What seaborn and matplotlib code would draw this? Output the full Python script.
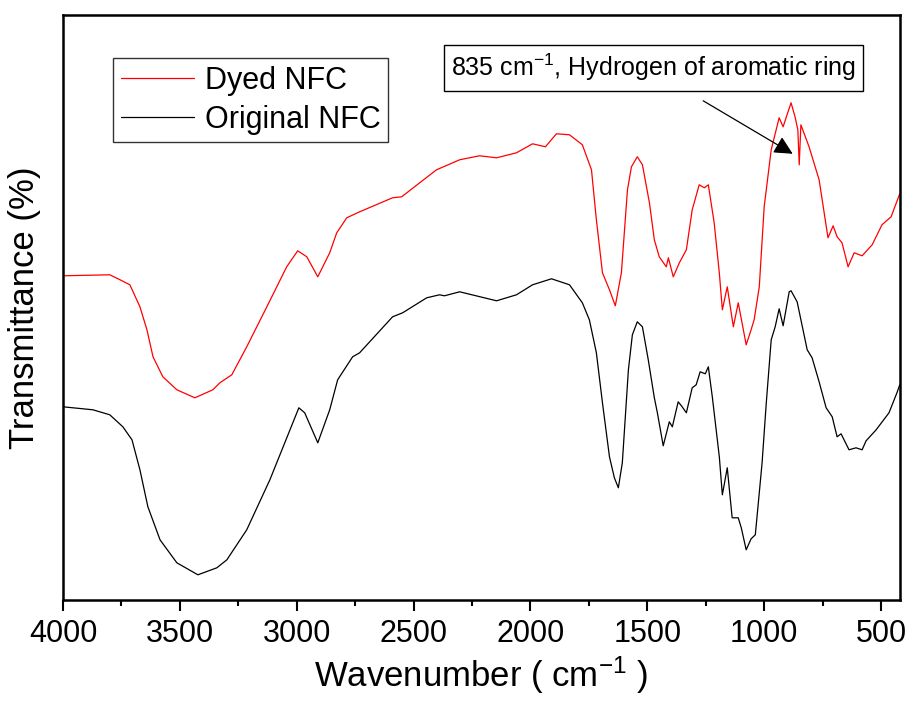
import matplotlib
matplotlib.use('Agg')
import matplotlib.pyplot as plt
import seaborn as sns
import pandas as pd
from matplotlib.ticker import MultipleLocator

sns.set_theme(style="white")
plt.rcParams['font.family'] = ['Liberation Sans', 'DejaVu Sans']
plt.rcParams['mathtext.default'] = 'regular'
plt.rcParams['text.color'] = 'black'
plt.rcParams['axes.labelcolor'] = 'black'
plt.rcParams['xtick.color'] = 'black'

# --- data (wavenumber in cm-1, transmittance in arbitrary %) ---
dyed_wn = [4000, 3800, 3756, 3714, 3671, 3641, 3615, 3573, 3513, 3436, 3359, 3329, 3278, 3214,
           3128, 3043, 2996, 2957, 2910, 2859, 2829, 2786, 2731, 2590, 2551, 2474, 2402, 2303,
           2218, 2145, 2060, 1991, 1936, 1889, 1833, 1778, 1739, 1718, 1692, 1662, 1637, 1611,
           1585, 1568, 1543, 1521, 1491, 1470, 1449, 1419, 1410, 1389, 1363, 1333, 1308, 1278,
           1256, 1239, 1214, 1192, 1179, 1158, 1132, 1111, 1077, 1056, 1043, 1021, 1000, 970,
           936, 919, 898, 885, 868, 856, 850, 843, 808, 765, 727, 705, 688, 667, 641, 615, 581,
           538, 496, 457, 420]
dyed_t = [32.4, 32.5, 32.0, 31.5, 29.3, 27.0, 24.3, 22.3, 21.0, 20.2, 21.0, 21.7, 22.5, 25.3,
          29.3, 33.3, 34.9, 34.3, 32.3, 34.7, 36.7, 38.2, 38.8, 40.2, 40.3, 41.7, 43.0, 44.0,
          44.4, 44.2, 44.7, 45.6, 45.3, 46.6, 46.5, 45.5, 43.0, 38.0, 32.7, 31.0, 29.4, 32.7,
          41.0, 43.3, 44.3, 43.5, 39.7, 36.0, 34.3, 33.3, 34.2, 32.3, 33.7, 35.0, 39.0, 41.5,
          41.2, 41.5, 37.7, 32.7, 29.0, 31.3, 27.3, 29.7, 25.5, 27.0, 28.0, 31.3, 39.3, 45.0,
          48.2, 47.3, 48.8, 49.7, 48.3, 47.0, 43.5, 47.5, 45.3, 42.0, 36.2, 37.4, 36.3, 35.7,
          33.3, 34.7, 34.4, 35.5, 37.5, 38.3, 40.6]

orig_wn = [4000, 3872, 3800, 3744, 3705, 3671, 3637, 3585, 3513, 3423, 3342, 3299, 3214, 3115,
           2991, 2966, 2910, 2859, 2825, 2761, 2731, 2590, 2547, 2444, 2389, 2368, 2303, 2145,
           2060, 1991, 1910, 1833, 1778, 1748, 1718, 1692, 1662, 1641, 1624, 1607, 1581, 1564,
           1543, 1521, 1496, 1470, 1457, 1432, 1406, 1393, 1368, 1351, 1333, 1308, 1291, 1274,
           1252, 1239, 1222, 1192, 1179, 1158, 1137, 1111, 1098, 1077, 1056, 1038, 1021, 1009,
           991, 970, 953, 936, 919, 893, 885, 859, 816, 795, 765, 735, 709, 688, 671, 637, 607,
           581, 564, 521, 466, 432, 420]
orig_t = [19.3, 19.0, 18.5, 17.3, 16.0, 13.0, 9.3, 6.0, 3.7, 2.5, 3.2, 4.0, 7.0, 12.0,
          19.2, 18.7, 15.7, 19.0, 22.0, 24.3, 24.7, 28.3, 28.7, 30.2, 30.5, 30.4, 30.8, 29.9,
          30.5, 31.5, 32.1, 31.5, 29.7, 28.0, 24.7, 19.7, 14.3, 12.2, 11.2, 13.7, 23.0, 26.5,
          27.8, 27.3, 24.0, 20.2, 18.7, 15.4, 17.8, 17.3, 19.8, 19.3, 18.7, 21.2, 21.5, 22.8,
          22.6, 23.3, 20.3, 14.3, 10.5, 13.2, 8.2, 8.2, 7.2, 5.0, 6.1, 6.5, 10.7, 13.7,
          19.7, 26.0, 27.3, 29.1, 27.4, 30.8, 30.9, 29.8, 25.0, 24.2, 21.8, 19.2, 18.3, 16.3,
          16.6, 15.0, 15.2, 15.0, 15.9, 17.0, 18.7, 20.7, 21.5]

x_major = [4000, 3500, 3000, 2500, 2000, 1500, 1000, 500]
note_text = r'835 cm$^{-1}$, Hydrogen of aromatic ring'

df_dyed = pd.DataFrame({'wn': dyed_wn, 't': dyed_t})
df_orig = pd.DataFrame({'wn': orig_wn, 't': orig_t})

fig = plt.figure(figsize=(9.07, 7.04), dpi=100)
ax = fig.add_axes([0.0695, 0.148, 0.9225, 0.831])

sns.lineplot(data=df_dyed, x='wn', y='t', ax=ax, color='red', lw=0.9,
             estimator=None, sort=False, label='Dyed NFC')
sns.lineplot(data=df_orig, x='wn', y='t', ax=ax, color='black', lw=0.9,
             estimator=None, sort=False, label='Original NFC')

ax.set_xlim(4000, 420)
ax.set_ylim(0, 58.5)
ax.set_xticks(x_major)
ax.xaxis.set_minor_locator(MultipleLocator(250))
ax.set_yticks([])
ax.tick_params(axis='x', which='major', direction='out', length=8, width=1.5,
               labelsize=22, bottom=True, pad=6)
ax.tick_params(axis='x', which='minor', direction='out', length=4, width=1.5, bottom=True)
for s in ax.spines.values():
    s.set_linewidth(1.8)
    s.set_color('black')

ax.set_xlabel(r'Wavenumber ( cm$^{-1}$ )', fontsize=25, labelpad=4)
ax.set_ylabel('Transmittance (%)', fontsize=25, labelpad=16)

leg = ax.legend(loc='upper left', bbox_to_anchor=(113 / 907, 1 - 58 / 704),
                bbox_transform=fig.transFigure, borderaxespad=0, fontsize=22,
                frameon=True, fancybox=False, edgecolor='black', handlelength=2.4,
                labelspacing=0.3, borderpad=0.25, handletextpad=0.35)
leg.get_frame().set_linewidth(1.0)

ax.text(1474, 53.2, note_text, fontsize=18, ha='center', va='center',
        bbox=dict(boxstyle='square,pad=0.3', fc='white', ec='black', lw=1.0))
ax.annotate('', xy=(878, 44.6), xytext=(1261, 49.9),
            arrowprops=dict(arrowstyle='-|>', color='black', lw=0.9, mutation_scale=28,
                            shrinkA=0, shrinkB=0))

fig.savefig('out.png', dpi=100)
